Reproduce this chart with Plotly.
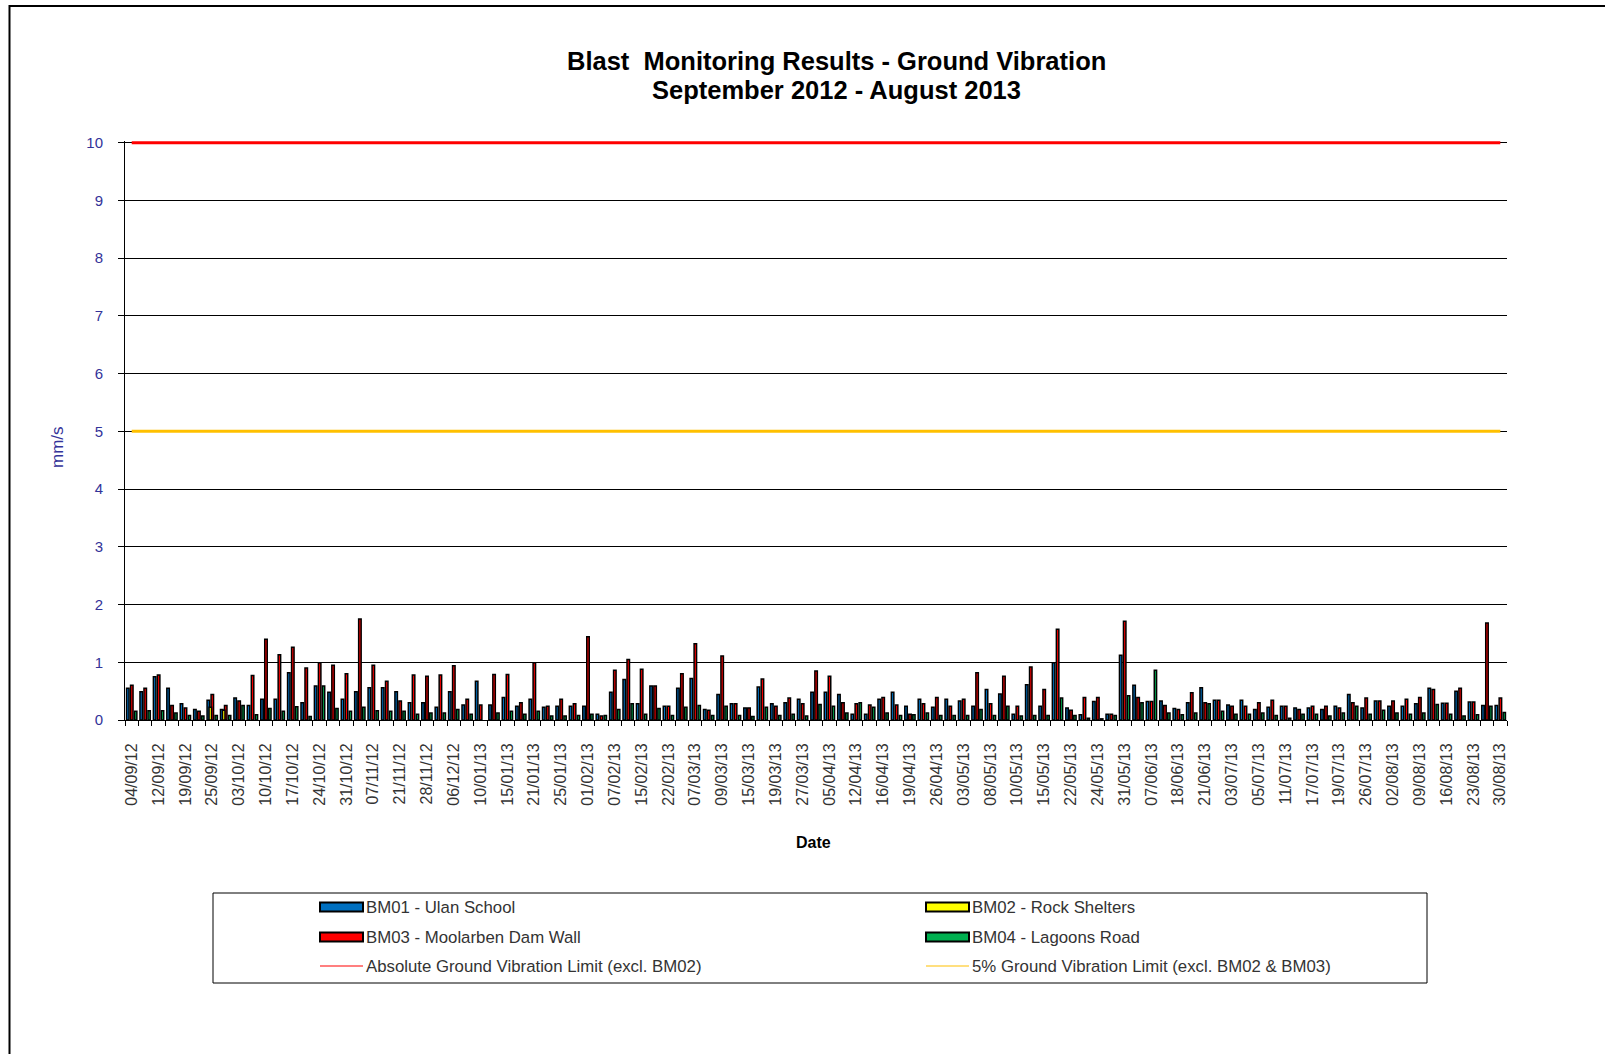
import plotly.graph_objects as go

# Blast events in firing order, one category per blast
blast_no = list(range(1, 104))

# Date labels printed under every second blast
tick_labels = [
    "04/09/12", "12/09/12", "19/09/12", "25/09/12", "03/10/12", "10/10/12", "17/10/12",
    "24/10/12", "31/10/12", "07/11/12", "21/11/12", "28/11/12", "06/12/12", "10/01/13",
    "15/01/13", "21/01/13", "25/01/13", "01/02/13", "07/02/13", "15/02/13", "22/02/13",
    "07/03/13", "09/03/13", "15/03/13", "19/03/13", "27/03/13", "05/04/13", "12/04/13",
    "16/04/13", "19/04/13", "26/04/13", "03/05/13", "08/05/13", "10/05/13", "15/05/13",
    "22/05/13", "24/05/13", "31/05/13", "07/06/13", "18/06/13", "21/06/13", "03/07/13",
    "05/07/13", "11/07/13", "17/07/13", "19/07/13", "26/07/13", "02/08/13", "09/08/13",
    "16/08/13", "23/08/13", "30/08/13",
]

# Peak particle velocity per blast (mm/s)
bm01 = [0.55, 0.49, 0.75, 0.55, 0.28, 0.18, 0.34, 0.18, 0.38, 0.25,
        0.36, 0.36, 0.82, 0.30, 0.59, 0.48, 0.36, 0.49, 0.56, 0.56,
        0.49, 0.30, 0.30, 0.22, 0.49, 0.26, 0.67, 0.26, 0.39, 0.24,
        0.36, 0.22, 0.24, 0.24, 0.24, 0.10, 0.48, 0.70, 0.28, 0.59,
        0.24, 0.55, 0.72, 0.18, 0.44, 0.28, 0.21, 0.57, 0.28, 0.30,
        0.36, 0.48, 0.48, 0.44, 0.10, 0.10, 0.36, 0.48, 0.24, 0.36,
        0.22, 0.36, 0.33, 0.24, 0.53, 0.45, 0.10, 0.61, 0.24, 0.99,
        0.21, 0.09, 0.32, 0.10, 1.12, 0.60, 0.32, 0.33, 0.20, 0.30,
        0.56, 0.34, 0.26, 0.34, 0.18, 0.22, 0.24, 0.21, 0.21, 0.18,
        0.24, 0.44, 0.21, 0.33, 0.24, 0.24, 0.28, 0.55, 0.29, 0.50,
        0.31, 0.25, 0.25]

bm02_readings = {7: 0.22, 8: 0.17}
bm02 = [bm02_readings.get(b) for b in blast_no]

bm03 = [0.60, 0.55, 0.78, 0.25, 0.21, 0.15, 0.44, 0.25, 0.33, 0.77,
        1.40, 1.13, 1.26, 0.90, 0.99, 0.95, 0.80, 1.75, 0.95, 0.67,
        0.33, 0.78, 0.76, 0.78, 0.94, 0.36, 0.26, 0.79, 0.79, 0.30,
        0.99, 0.24, 0.36, 0.28, 1.44, 0.07, 0.86, 1.05, 0.88, 0.59,
        0.24, 0.80, 1.32, 0.17, 1.11, 0.28, 0.21, 0.71, 0.24, 0.38,
        0.28, 0.85, 0.76, 0.30, 0.28, 0.26, 0.39, 0.26, 0.10, 0.28,
        0.39, 0.24, 0.36, 0.82, 0.28, 0.76, 0.24, 0.92, 0.53, 1.57,
        0.17, 0.39, 0.39, 0.10, 1.71, 0.39, 0.32, 0.25, 0.18, 0.47,
        0.30, 0.34, 0.24, 0.24, 0.30, 0.34, 0.24, 0.18, 0.24, 0.24,
        0.21, 0.30, 0.38, 0.33, 0.33, 0.36, 0.39, 0.53, 0.29, 0.55,
        0.31, 1.68, 0.38]

bm04 = [0.15, 0.16, 0.16, 0.12, 0.08, 0.07, 0.08, 0.08, 0.25, 0.09,
        0.20, 0.15, 0.23, 0.06, 0.59, 0.20, 0.15, 0.22, 0.16, 0.15,
        0.15, 0.10, 0.12, 0.12, 0.18, 0.10, None, 0.12, 0.15, 0.10,
        0.15, 0.07, 0.07, 0.08, 0.10, 0.08, 0.18, 0.28, 0.10, 0.20,
        0.08, 0.22, 0.25, 0.08, 0.24, 0.08, 0.06, 0.22, 0.08, 0.10,
        0.07, 0.27, 0.24, 0.12, 0.30, 0.22, 0.12, 0.08, 0.09, 0.12,
        0.08, 0.08, 0.08, 0.18, 0.08, 0.24, 0.07, 0.08, 0.08, 0.38,
        0.08, 0.03, 0.02, 0.08, 0.42, 0.30, 0.86, 0.12, 0.09, 0.12,
        0.28, 0.15, 0.10, 0.10, 0.12, 0.08, 0.03, 0.10, 0.10, 0.07,
        0.12, 0.24, 0.10, 0.17, 0.12, 0.10, 0.12, 0.27, 0.10, 0.07,
        0.09, 0.24, 0.13]

# Criteria (mm/s)
absolute_limit = 10
five_pct_limit = 5

# ---- geometry ----
W, H = 1605, 1054
L, R, T, B = 125, 98, 141, 334
PW, PH = W - L - R, H - T - B


def fx(px):
    return (px - L) / PW


def fy(py):
    return (H - B - py) / PH


FONT = "Liberation Sans, Arial, sans-serif"
NAVY = "#333399"

names = {
    "bm01": "BM01 - Ulan School",
    "bm02": "BM02 - Rock Shelters",
    "bm03": "BM03 - Moolarben Dam Wall",
    "bm04": "BM04 - Lagoons Road",
    "abs": "Absolute Ground Vibration Limit (excl. BM02)",
    "pct": "5% Ground Vibration Limit (excl. BM02 & BM03)",
}
colors = {"bm01": "#0070C0", "bm02": "#FFFF00", "bm03": "#FF0000",
          "bm04": "#00B050", "abs": "#FF0000", "pct": "#FFC000"}

fig = go.Figure()

# Limit lines
for key, level in (("abs", absolute_limit), ("pct", five_pct_limit)):
    fig.add_trace(go.Scatter(
        x=blast_no, y=[level] * len(blast_no), mode="lines",
        name=names[key], line=dict(color=colors[key], width=3),
        showlegend=False, hoverinfo="skip",
    ))

# Monitor bars: (key, values, offset, width) in category units.
# Narrow fills with a heavy black outline, as in the printed report.
bar_specs = [
    ("bm01", bm01, -0.384, 0.186),
    ("bm03", bm03, -0.086, 0.186),
    ("bm04", bm04, 0.212, 0.172),
    ("bm02", bm02, -0.235, 0.186),
]
for key, vals, off, wid in bar_specs:
    fig.add_trace(go.Bar(
        x=blast_no, y=vals, name=names[key], offset=off, width=wid,
        marker=dict(color=colors[key], line=dict(color="black", width=1.5)),
        showlegend=False,
    ))

fig.update_layout(
    width=W, height=H,
    margin=dict(l=L, r=R, t=T, b=B, pad=0),
    paper_bgcolor="white", plot_bgcolor="white",
    barmode="overlay",
    showlegend=False,
    font=dict(family=FONT, color="#222222"),
)

fig.update_xaxes(
    range=[0.5, blast_no[-1] + 0.5],
    tickmode="array", tickvals=blast_no[::2], ticktext=tick_labels,
    tickangle=-90, tickfont=dict(size=16, color="#333333", family=FONT),
    ticks="", ticklabelstandoff=16,
    minor=dict(tickvals=[b - 0.5 for b in blast_no] + [blast_no[-1] + 0.5],
               ticks="outside", ticklen=5, tickwidth=1, tickcolor="black"),
    showline=True, linecolor="black", linewidth=1,
    showgrid=False, zeroline=False, automargin=False,
)

fig.update_yaxes(
    range=[0, 10.03],
    tickmode="array", tickvals=list(range(0, 11)),
    tickfont=dict(size=15, color=NAVY, family=FONT),
    ticks="outside", ticklen=6, tickcolor="black", ticklabelstandoff=12,
    showline=True, linecolor="black", linewidth=1,
    showgrid=True, gridcolor="black", gridwidth=1,
    zeroline=False, automargin=False,
)

annotations = [
    dict(text="<b>Blast  Monitoring Results - Ground Vibration</b>",
         x=fx(836), y=fy(61), xref="paper", yref="paper",
         xanchor="center", yanchor="middle", showarrow=False,
         font=dict(size=25.5, color="black", family=FONT)),
    dict(text="<b>September 2012 - August 2013</b>",
         x=fx(836), y=fy(90), xref="paper", yref="paper",
         xanchor="center", yanchor="middle", showarrow=False,
         font=dict(size=25.5, color="black", family=FONT)),
    dict(text="mm/s", x=fx(57), y=fy(447), xref="paper", yref="paper",
         xanchor="center", yanchor="middle", textangle=-90, showarrow=False,
         font=dict(size=17, color=NAVY, family=FONT)),
    dict(text="<b>Date</b>", x=fx(813), y=fy(842), xref="paper", yref="paper",
         xanchor="center", yanchor="middle", showarrow=False,
         font=dict(size=16, color="black", family=FONT)),
]

shapes = [
    # outer chart frame
    dict(type="rect", xref="paper", yref="paper",
         x0=fx(9.5), x1=fx(1700), y0=fy(6), y1=fy(1120),
         line=dict(color="black", width=2), fillcolor="rgba(0,0,0,0)", layer="above"),
    # legend box
    dict(type="rect", xref="paper", yref="paper",
         x0=fx(213), x1=fx(1427), y0=fy(893), y1=fy(983),
         line=dict(color="black", width=1), fillcolor="white", layer="above"),
]

legend_rows = [
    ("bm01", "bar", 0, 0), ("bm02", "bar", 1, 0),
    ("bm03", "bar", 0, 1), ("bm04", "bar", 1, 1),
    ("abs", "line", 0, 2), ("pct", "line", 1, 2),
]
row_y = [907, 937, 966]
sym_x = [320, 926]
text_x = [364, 970]
for key, kind, col, row in legend_rows:
    y = row_y[row]
    if kind == "bar":
        shapes.append(dict(type="rect", xref="paper", yref="paper",
                           x0=fx(sym_x[col]), x1=fx(sym_x[col] + 43),
                           y0=fy(y - 4.5), y1=fy(y + 4.5),
                           line=dict(color="black", width=2),
                           fillcolor=colors[key], layer="above"))
    else:
        shapes.append(dict(type="line", xref="paper", yref="paper",
                           x0=fx(sym_x[col]), x1=fx(sym_x[col] + 43),
                           y0=fy(y), y1=fy(y),
                           line=dict(color=colors[key], width=1.2), layer="above"))
    annotations.append(dict(text=names[key], x=fx(text_x[col]), y=fy(y),
                            xref="paper", yref="paper", xanchor="left", yanchor="middle",
                            showarrow=False,
                            font=dict(size=16.8, color="#333333", family=FONT)))

fig.update_layout(annotations=annotations, shapes=shapes)

fig.write_html("out.html")
